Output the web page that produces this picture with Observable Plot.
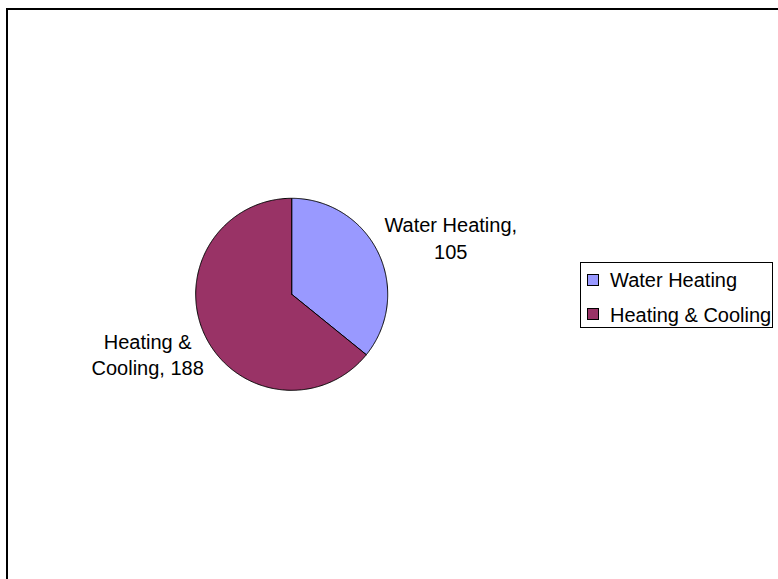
<!DOCTYPE html>
<html>
<head>
<meta charset="utf-8">
<script src="https://cdn.jsdelivr.net/npm/d3@7"></script>
<script src="https://cdn.jsdelivr.net/npm/@observablehq/plot@0.6"></script>
<style>
  html, body { margin: 0; padding: 0; background: #fff; overflow: hidden; }
  #wrap { position: relative; width: 778px; height: 579px; overflow: hidden; font-family: "Liberation Sans", Arial, sans-serif; }
  #chart { position: absolute; left: 0; top: 0; }
  #border { position: absolute; left: 6px; top: 8px; width: 800px; height: 600px; border: 2px solid #000; box-sizing: border-box; pointer-events: none; }
  #legend { position: absolute; left: 580px; top: 262px; width: 193px; height: 66px; border: 1px solid #000; box-sizing: border-box; background: #fff; }
  .sw { position: absolute; width: 12px; height: 12px; border: 1px solid #000; box-sizing: border-box; }
  .lt { position: absolute; font-size: 20px; line-height: 20px; white-space: nowrap; color: #000; }
</style>
</head>
<body>
<div id="wrap">
  <div id="chart"></div>
  <div id="border"></div>
  <div id="legend"></div>
</div>
<script>
// Data
const categories = ["Water Heating", "Heating & Cooling"];
const values = [105, 188];
const colors = ["#9999FF", "#993366"];
const labelLines = [["Water Heating,", "105"], ["Heating &", "Cooling, 188"]];

// Build slice polygons in unit-circle space (clockwise from 12 o'clock)
const total = d3.sum(values);
const pts = [];
const labels = [];
let acc = 0;
categories.forEach((c, i) => {
  const a0 = acc / total * 2 * Math.PI;
  acc += values[i];
  const a1 = acc / total * 2 * Math.PI;
  pts.push({cat: c, x: 0, y: 0});
  const n = Math.max(2, Math.ceil((a1 - a0) / 0.01));
  for (let k = 0; k <= n; k++) {
    const a = a0 + (a1 - a0) * k / n;
    pts.push({cat: c, x: Math.sin(a), y: Math.cos(a)});
  }
  pts.push({cat: c, x: 0, y: 0});
  const am = (a0 + a1) / 2;
  const s = Math.sin(am), co = Math.cos(am);
  const R = 1.42;
  labels.push({
    x: s * R + (s > 0 ? 36 : -21) / 96,
    y: co * R - (s > 0 ? 1.5 : 0.6) / 96,
    text: labelLines[i].join("\n")
  });
});

const cx = 291.2, cy = 293.8, r = 96;
const W = 778, H = 579;

const plot = Plot.plot({
  width: W,
  height: H,
  marginLeft: cx - r,
  marginRight: W - (cx + r),
  marginTop: cy - r,
  marginBottom: H - (cy + r),
  x: {domain: [-1, 1], axis: null},
  y: {domain: [-1, 1], axis: null},
  color: {domain: categories, range: colors},
  style: {fontFamily: "'Liberation Sans', Arial, sans-serif", overflow: "visible", background: "transparent"},
  marks: [
    Plot.line(pts, {x: "x", y: "y", z: "cat", fill: "cat", stroke: "#000", strokeWidth: 1, curve: "linear"}),
    Plot.text(labels, {x: "x", y: "y", text: "text", fontSize: 20, lineHeight: 1.33, lineAnchor: "middle", textAnchor: "middle", fill: "#000"})
  ]
});
document.getElementById("chart").appendChild(plot);

// Legend
const lg = document.getElementById("legend");
categories.forEach((c, i) => {
  const sw = document.createElement("div");
  sw.className = "sw";
  sw.style.left = "6px";
  sw.style.top = (11 + i * 34) + "px";
  sw.style.background = colors[i];
  lg.appendChild(sw);
  const t = document.createElement("div");
  t.className = "lt";
  t.style.left = "29px";
  t.style.top = (7 + i * 35) + "px";
  t.textContent = c;
  lg.appendChild(t);
});
</script>
</body>
</html>
